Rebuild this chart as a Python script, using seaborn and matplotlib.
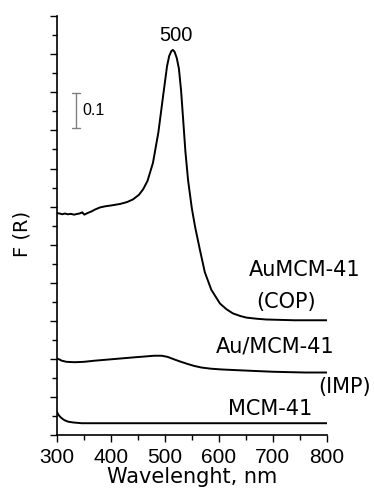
import numpy as np
import pandas as pd
import seaborn as sns
import matplotlib.pyplot as plt
from matplotlib.ticker import MultipleLocator

sns.set_style('ticks')
plt.rcParams['font.family'] = ['DejaVu Sans']
plt.rcParams['text.color'] = 'black'
plt.rcParams['axes.labelcolor'] = 'black'
plt.rcParams['xtick.color'] = 'black'
plt.rcParams['ytick.color'] = 'black'
plt.rcParams['axes.edgecolor'] = 'black'

# Spectra (wavelength in nm, F(R) in arbitrary units)
wl_cop = [300, 305, 310, 315, 320, 326, 332, 338, 342, 345, 347, 349, 351, 355, 360, 365, 370,
          380, 390, 400, 417, 430, 441, 452, 460, 468, 478, 488, 497, 504, 508, 512,
          515, 518, 522, 526, 530, 534, 538, 543, 550, 556, 565, 574, 586, 602, 614,
          626, 640, 651, 670, 688, 740, 800]
f_cop = [0.583, 0.582, 0.580, 0.582, 0.580, 0.581, 0.579, 0.581, 0.582, 0.584, 0.585, 0.582, 0.579,
         0.582, 0.585, 0.588, 0.592, 0.598, 0.601, 0.603, 0.607, 0.612, 0.619, 0.631, 0.646,
         0.668, 0.715, 0.795, 0.893, 0.968, 0.995, 1.008, 1.011, 1.006, 0.990, 0.962,
         0.905, 0.826, 0.745, 0.669, 0.595, 0.547, 0.486, 0.428, 0.382, 0.346, 0.331,
         0.320, 0.313, 0.309, 0.306, 0.304, 0.302, 0.302]

wl_imp = [300, 305, 309, 318, 333, 350, 370, 395, 420, 445, 463, 480, 494, 505, 518, 530,
          543, 555, 568, 585, 605, 635, 667, 700, 728, 760, 800]
f_imp = [0.202, 0.199, 0.196, 0.193, 0.192, 0.193, 0.196, 0.199, 0.202, 0.205, 0.207, 0.209,
         0.209, 0.206, 0.199, 0.193, 0.187, 0.182, 0.178, 0.175, 0.173, 0.171, 0.169, 0.167,
         0.166, 0.165, 0.165]

wl_mcm = [300, 303, 306, 309, 314, 321, 330, 346, 400, 500, 600, 700, 800]
f_mcm = [0.062, 0.054, 0.049, 0.045, 0.040, 0.036, 0.034, 0.032, 0.032, 0.032, 0.032, 0.032, 0.032]

peak_label = '500'
labels = ['AuMCM-41', '(COP)', 'Au/MCM-41', '(IMP)', 'MCM-41']

fig = plt.figure(figsize=(3.74, 4.92), dpi=100)
ax = fig.add_axes([0.152, 0.115, 0.722, 0.8525])

for wl, f in [(wl_cop, f_cop), (wl_imp, f_imp), (wl_mcm, f_mcm)]:
    df = pd.DataFrame({'wl': wl, 'F': f})
    sns.lineplot(data=df, x='wl', y='F', color='black', linewidth=1.4, ax=ax)

ax.set_xlim(300, 800)
ax.set_ylim(0, 1.1)
ax.xaxis.set_major_locator(MultipleLocator(100))
ax.xaxis.set_minor_locator(MultipleLocator(50))
ax.yaxis.set_major_locator(MultipleLocator(0.1))
ax.yaxis.set_minor_locator(MultipleLocator(0.05))
ax.tick_params(which='major', length=5, width=1, direction='out', pad=4,
               labelsize=15, labelfontfamily='Liberation Sans')
ax.tick_params(which='minor', length=3.5, width=1, direction='out')
ax.tick_params(axis='y', labelleft=False)
sns.despine(ax=ax)
for s in ['left', 'bottom']:
    ax.spines[s].set_linewidth(1.2)

ax.set_xlabel('Wavelenght, nm', fontsize=15, labelpad=0)
ax.set_ylabel('F (R)', fontsize=14)
ax.yaxis.set_label_coords(-0.095, 0.48)

# annotations
ax.text(520, 1.05, peak_label, ha='center', va='center', fontsize=14.5, family='Liberation Sans')
ax.text(758, 0.433, labels[0], ha='center', va='center', fontsize=15, clip_on=False)
ax.text(725, 0.350, labels[1], ha='center', va='center', fontsize=15, clip_on=False)
ax.text(704, 0.232, labels[2], ha='center', va='center', fontsize=15, clip_on=False)
ax.text(833, 0.128, labels[3], ha='center', va='center', fontsize=15, clip_on=False)
ax.text(694, 0.069, labels[4], ha='center', va='center', fontsize=15, clip_on=False)

# scale bar 0.1
bar_x = 335
ax.plot([bar_x, bar_x], [0.805, 0.897], color='gray', linewidth=1)
ax.plot([bar_x - 7, bar_x + 7], [0.805, 0.805], color='gray', linewidth=1)
ax.plot([bar_x - 7, bar_x + 7], [0.897, 0.897], color='gray', linewidth=1)
ax.text(347, 0.852, '0.1', ha='left', va='center', fontsize=11.5, family='Liberation Sans')

plt.savefig('out.png', dpi=100)
plt.close()
